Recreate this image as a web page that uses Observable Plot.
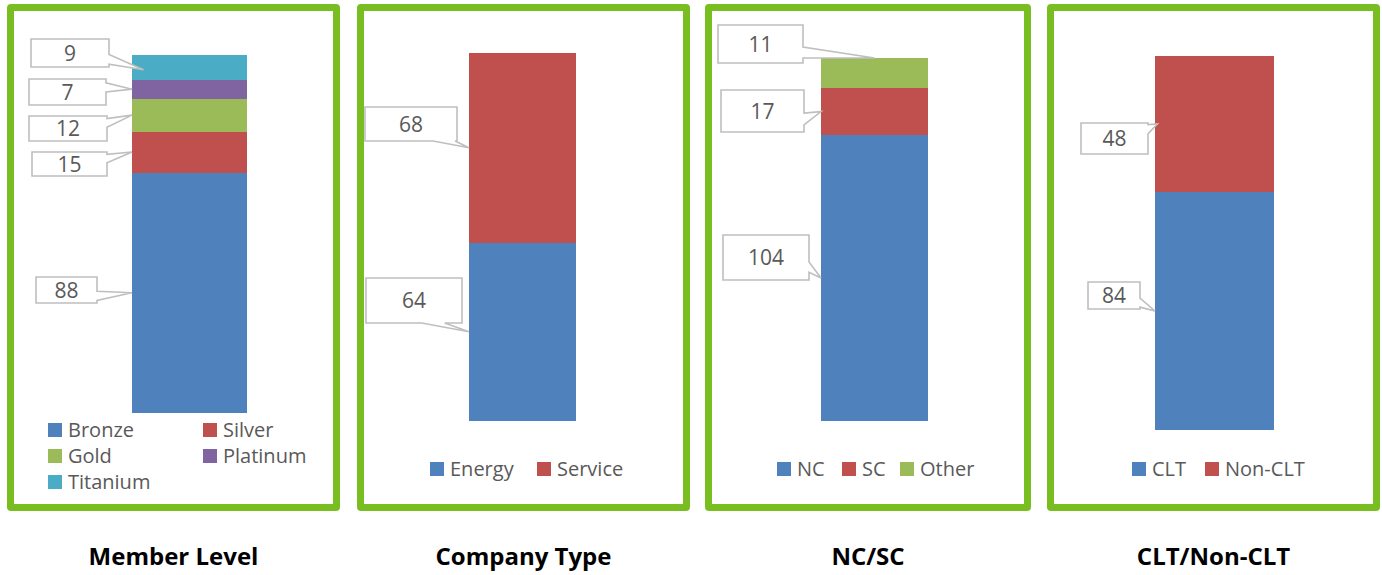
<!DOCTYPE html>
<html>
<head>
<meta charset="utf-8">
<script src="https://cdn.jsdelivr.net/npm/d3@7"></script>
<script src="https://cdn.jsdelivr.net/npm/@observablehq/plot@0.6"></script>
<style>
  html, body { margin: 0; padding: 0; background: #ffffff; }
  #root { position: relative; width: 1382px; height: 575px; font-family: "Open Sans", "DejaVu Sans", sans-serif; overflow: hidden; }
  .panel { position: absolute; box-sizing: border-box; border: 7px solid #78be21; border-radius: 4px; background: #fff; }
  .panel svg { position: absolute; left: 0; top: 0; overflow: visible; background: transparent; }
  .sw { position: absolute; width: 14px; height: 14px; }
  .lt { position: absolute; font-size: 20px; line-height: 24px; height: 24px; color: #595959; white-space: nowrap; }
  .title { position: absolute; text-align: center; font-weight: 700; font-size: 24px; line-height: 24px; color: #000; white-space: nowrap; }
</style>
</head>
<body>
<div id="root"></div>
<script>
// ---------- data ----------
const chartTitles = ["Member Level", "Company Type", "NC/SC", "CLT/Non-CLT"];

const memberLevels = ["Bronze", "Silver", "Gold", "Platinum", "Titanium"];
const memberCounts = [88, 15, 12, 7, 9];

const companyTypes = ["Energy", "Service"];
const companyCounts = [64, 68];

const regions = ["NC", "SC", "Other"];
const regionCounts = [104, 17, 11];

const cltGroups = ["CLT", "Non-CLT"];
const cltCounts = [84, 48];

const palette = ["#4f81bd", "#c0504d", "#9bbb59", "#8064a2", "#4bacc6"];

// ---------- layout (page pixels) ----------
const PANEL_TOP = 4, PANEL_BOTTOM = 511, BORDER = 7;
const layout = [
  { left: 7, width: 333, bar: [132, 247, 55, 413],
    legend: [[48, 430], [203, 430], [48, 456], [203, 456], [48, 482]],
    callouts: [
      { box: [36, 277, 97, 303], side: "r", base: [0.55, 0.9] },
      { box: [32, 152, 107, 176], side: "r", base: [0.1, 0.45] },
      { box: [29, 116, 107, 141], side: "r", base: [0.1, 0.45] },
      { box: [29, 79, 106, 105], side: "r", base: [0.15, 0.5] },
      { box: [31, 39, 109, 67], side: "r", base: [0.55, 0.9], fx: 0.1, fy: 0.4 }
    ] },
  { left: 357, width: 333, bar: [469, 576, 53, 421],
    legend: [[430, 469], [537, 469]],
    callouts: [
      { box: [366, 278, 462, 323], side: "b", base: [0.58, 0.82] },
      { box: [365, 107, 457, 141], side: "b", base: [0.74, 0.98] }
    ] },
  { left: 705, width: 326, bar: [821, 928, 58, 421],
    legend: [[777, 469], [842, 469], [900, 469]],
    callouts: [
      { box: [723, 235, 809, 280], side: "r", base: [0.6, 0.83] },
      { box: [721, 90, 804, 132], side: "r", base: [0.55, 0.83] },
      { box: [718, 25, 803, 63], side: "r", base: [0.58, 0.87], fx: 0.5, fy: 1 }
    ] },
  { left: 1047, width: 333, bar: [1155, 1274, 56, 430],
    legend: [[1132, 469], [1205, 469]],
    callouts: [
      { box: [1088, 282, 1140, 309], side: "r", base: [0.6, 0.93] },
      { box: [1081, 123, 1148, 154], side: "r", base: [0.05, 0.35], fx: 0.02 }
    ] }
];

const panels = [
  { title: chartTitles[0], cats: memberLevels, vals: memberCounts },
  { title: chartTitles[1], cats: companyTypes, vals: companyCounts },
  { title: chartTitles[2], cats: regions, vals: regionCounts },
  { title: chartTitles[3], cats: cltGroups, vals: cltCounts }
];

const root = document.getElementById("root");

panels.forEach((p, i) => {
  const L = layout[i];
  const div = document.createElement("div");
  div.className = "panel";
  Object.assign(div.style, {
    left: L.left + "px", top: PANEL_TOP + "px",
    width: L.width + "px", height: (PANEL_BOTTOM - PANEL_TOP) + "px"
  });
  root.appendChild(div);

  const ix = L.left + BORDER, iy = PANEL_TOP + BORDER;
  const iw = L.width - 2 * BORDER, ih = PANEL_BOTTOM - PANEL_TOP - 2 * BORDER;
  const [bx0, bx1, by0, by1] = L.bar;
  const colors = palette.slice(0, p.cats.length);
  const rows = p.cats.map((c, j) => ({ group: p.title, category: c, value: p.vals[j] }));
  const total = d3.sum(p.vals);

  const chart = Plot.plot({
    width: iw, height: ih,
    marginLeft: bx0 - ix, marginRight: ix + iw - bx1,
    marginTop: by0 - iy, marginBottom: iy + ih - by1,
    x: { domain: [p.title], padding: 0, axis: null },
    y: { domain: [0, total], axis: null },
    color: { domain: p.cats, range: colors },
    marks: [
      Plot.barY(rows, { x: "group", y: "value", fill: "category", shapeRendering: "crispEdges" })
    ]
  });
  div.appendChild(chart);

  // data-label callouts, tips placed through the chart's scales
  const ys = chart.scale("y"), xs = chart.scale("x");
  const barX = xs.apply(p.title), barW = xs.bandwidth;
  const svg = d3.select(chart);
  const g = svg.append("g");
  let cum = 0;
  p.vals.forEach((v, j) => {
    const c = L.callouts[j];
    const lo = cum; cum += v;
    const fx = c.fx ?? 0, fy = c.fy ?? 0.5;
    const tx = barX + fx * barW;
    const ty = ys.apply(lo + fy * v);
    const x0 = c.box[0] - ix, y0 = c.box[1] - iy, x1 = c.box[2] - ix, y1 = c.box[3] - iy;
    const w = x1 - x0, h = y1 - y0;
    let pts;
    if (c.side === "r") {
      pts = [[x0, y0], [x1, y0], [x1, y0 + c.base[0] * h], [tx, ty], [x1, y0 + c.base[1] * h], [x1, y1], [x0, y1]];
    } else {
      pts = [[x0, y0], [x1, y0], [x1, y1], [x0 + c.base[1] * w, y1], [tx, ty], [x0 + c.base[0] * w, y1], [x0, y1]];
    }
    g.append("path")
      .attr("d", "M" + pts.map(q => q.join(",")).join("L") + "Z")
      .attr("fill", "#ffffff")
      .attr("stroke", "#bfbfbf")
      .attr("stroke-width", 1.6)
      .attr("stroke-linejoin", "miter");
    g.append("text")
      .attr("x", (x0 + x1) / 2)
      .attr("y", (y0 + y1) / 2)
      .attr("dy", "0.36em")
      .attr("text-anchor", "middle")
      .attr("font-family", "'Open Sans', sans-serif")
      .attr("font-size", 21)
      .attr("fill", "#595959")
      .text(String(v));
  });

  // legend
  p.cats.forEach((c, j) => {
    const [lx, ly] = L.legend[j];
    const sw = document.createElement("div");
    sw.className = "sw";
    Object.assign(sw.style, { left: lx + "px", top: (ly - 7) + "px", background: colors[j] });
    root.appendChild(sw);
    const t = document.createElement("div");
    t.className = "lt";
    t.textContent = c;
    Object.assign(t.style, { left: (lx + 20) + "px", top: (ly - 12) + "px" });
    root.appendChild(t);
  });

  // title below panel
  const tt = document.createElement("div");
  tt.className = "title";
  tt.textContent = p.title;
  Object.assign(tt.style, { left: L.left + "px", width: L.width + "px", top: "544px" });
  root.appendChild(tt);
});
</script>
</body>
</html>
